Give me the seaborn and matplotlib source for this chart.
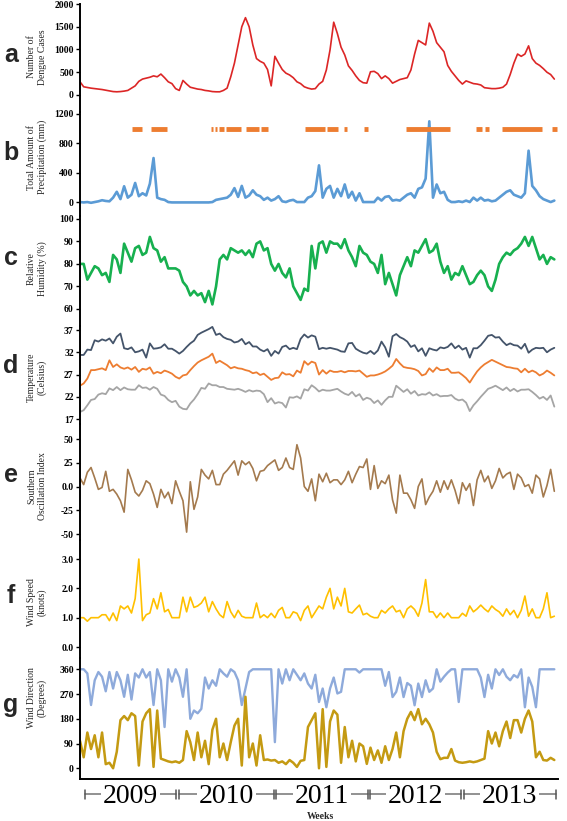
import numpy as np
import pandas as pd
import matplotlib
matplotlib.use("Agg")
import matplotlib.pyplot as plt
import seaborn as sns
from matplotlib.transforms import blended_transform_factory

# ---------------- data (biweekly readings, 2009-2013) ----------------
dengue = [290, 180, 165, 150, 140, 130, 120, 105, 90, 75,
          70, 75, 85, 100, 150, 200, 300, 350, 370, 390,
          420, 400, 460, 380, 290, 250, 140, 100, 320, 240,
          170, 150, 130, 120, 100, 90, 75, 70, 70, 100,
          150, 400, 700, 1100, 1500, 1700, 1500, 1100, 800, 740,
          700, 560, 200, 850, 700, 560, 480, 440, 380, 290,
          250, 180, 150, 130, 140, 240, 300, 550, 990, 1600,
          1350, 1050, 880, 640, 540, 420, 320, 270, 260, 510,
          520, 470, 360, 420, 360, 260, 300, 340, 360, 380,
          550, 900, 1200, 1150, 1100, 1580, 1400, 1150, 1050, 950,
          650, 520, 420, 320, 240, 310, 280, 250, 240, 220,
          160, 150, 140, 140, 150, 170, 240, 450, 700, 900,
          850, 900, 1080, 800, 700, 650, 580, 500, 450, 350]

precip = [0, -5, 0, -10, 0, 10, 25, 15, 10, 60,
          140, 40, 215, 60, 100, 260, 80, 120, 90, 250,
          600, 60, 40, 30, 0, -5, -5, -5, -5, -5,
          -5, -5, -5, -5, -5, -5, 0, 30, 40, 50,
          60, 100, 190, 70, 220, 60, 90, 160, 100, 80,
          30, 60, 20, 40, 80, 10, 0, 20, 30, 0,
          0, 0, 60, 80, 150, 500, 60, 180, 220, 60,
          180, 80, 240, 60, 140, 20, 120, 0, 0, 0,
          0, 60, 20, 70, 80, 20, 30, 20, 60, 100,
          120, 60, 180, 200, 320, 1100, 60, 240, 120, 140,
          30, 0, 0, 10, 0, 20, 0, 60, 20, 60,
          20, 30, 10, 20, 60, 100, 140, 160, 100, 80,
          60, 120, 700, 220, 160, 80, 40, 20, 0, 20]

# weeks flagged at the 1000 mm level (start week, end week)
flag_start = [29, 39, 72, 74, 76, 80, 91, 99, 123, 135, 144, 155, 178, 216, 221, 230, 257]
flag_end = [33, 47, 72, 74, 78, 87, 97, 102, 133, 140, 145, 156, 201, 218, 222, 251, 259]

humidity = [80, 80, 73, 76, 79, 78, 75, 76, 72, 84,
            82, 76, 89, 85, 81, 87, 88, 84, 85, 92,
            87, 86, 81, 83, 78, 78, 78, 77, 72, 70,
            66, 68, 66, 67, 63, 68, 62, 70, 82, 84,
            82, 87, 86, 85, 86, 84, 86, 83, 89, 90,
            86, 87, 80, 77, 80, 76, 74, 78, 70, 67,
            64, 69, 68, 88, 78, 89, 90, 85, 90, 89,
            89, 87, 91, 86, 83, 79, 88, 85, 84, 81,
            80, 76, 84, 71, 76, 71, 66, 75, 79, 83,
            79, 86, 85, 88, 91, 85, 86, 89, 81, 76,
            79, 73, 76, 75, 79, 75, 71, 72, 75, 77,
            75, 70, 68, 73, 80, 83, 85, 84, 86, 87,
            89, 92, 88, 92, 87, 82, 84, 80, 83, 82]

temp_max = [31.4, 31.4, 32.6, 32.5, 34.7, 34.4, 34.9, 34.6, 35.1, 34.0,
            35.5, 36.2, 32.9, 32.7, 33.1, 32.0, 32.2, 32.6, 30.8, 34.0,
            32.8, 32.9, 33.1, 33.8, 32.8, 32.8, 32.3, 31.7, 32.3, 33.2,
            34.0, 34.6, 35.9, 36.4, 36.8, 37.2, 37.7, 35.9, 36.2, 35.4,
            35.0, 34.8, 34.2, 34.4, 35.0, 33.8, 34.3, 33.3, 33.3, 32.6,
            32.2, 32.7, 31.2, 32.3, 31.7, 33.2, 33.5, 32.7, 33.0, 32.7,
            35.0, 36.0, 35.3, 35.8, 35.5, 32.7, 33.0, 32.8, 33.0, 32.8,
            32.6, 32.2, 32.1, 34.0, 34.1, 32.8, 32.3, 31.9, 31.7, 32.3,
            31.6, 32.4, 34.4, 33.1, 31.0, 35.6, 36.1, 35.4, 35.0, 34.4,
            33.2, 33.6, 32.2, 32.9, 31.2, 32.9, 32.6, 32.4, 33.1, 32.9,
            33.2, 34.0, 32.9, 33.5, 32.6, 33.0, 30.8, 32.9, 32.9, 33.6,
            34.6, 35.7, 35.9, 35.3, 35.4, 34.4, 33.6, 34.0, 33.6, 33.5,
            32.8, 33.9, 31.9, 32.6, 33.0, 32.9, 33.0, 32.0, 32.6, 33.0]

temp_mean = [24.5, 25.0, 26.1, 28.0, 28.0, 28.2, 28.4, 28.0, 30.2, 28.7,
             29.3, 28.6, 28.3, 28.6, 28.1, 28.7, 27.6, 28.3, 28.1, 28.6,
             27.2, 27.6, 27.3, 27.9, 27.6, 27.2, 26.5, 26.1, 26.8, 27.0,
             28.0, 28.9, 29.7, 30.2, 30.6, 31.0, 31.7, 29.6, 30.1, 29.6,
             29.1, 28.4, 28.7, 28.4, 28.3, 28.0, 27.8, 27.3, 27.5, 26.9,
             27.2, 26.5, 25.8, 26.2, 26.3, 27.5, 27.0, 27.1, 26.6, 27.9,
             27.4, 30.0, 29.2, 29.9, 29.6, 27.0, 28.0, 27.2, 27.9, 27.6,
             27.6, 27.8, 27.5, 27.8, 27.8, 27.7, 27.9, 27.2, 26.5, 26.8,
             26.8, 27.0, 27.3, 27.7, 28.3, 29.0, 30.5, 29.5, 28.7, 28.5,
             28.4, 28.2, 27.8, 26.8, 27.1, 28.4, 27.6, 28.6, 28.0, 28.0,
             28.3, 27.4, 27.4, 27.5, 26.9, 26.2, 25.2, 26.5, 27.7, 28.6,
             29.3, 29.8, 30.3, 29.9, 29.5, 29.1, 28.7, 28.6, 28.4, 28.3,
             27.5, 28.3, 27.5, 27.9, 27.5, 26.8, 27.2, 27.9, 27.4, 26.8]

temp_min = [18.6, 19.0, 20.1, 21.3, 21.5, 22.5, 22.8, 22.6, 23.9, 23.5,
            24.2, 23.5, 24.1, 23.7, 23.6, 23.6, 24.6, 24.0, 24.1, 23.6,
            24.2, 23.8, 22.5, 22.2, 21.3, 20.8, 21.1, 19.8, 19.3, 19.2,
            20.5, 21.4, 22.6, 24.0, 23.8, 25.0, 24.6, 24.6, 24.2, 24.2,
            23.8, 23.7, 23.6, 23.8, 23.5, 23.1, 23.5, 23.2, 23.4, 23.3,
            22.6, 20.8, 21.7, 20.5, 20.8, 20.6, 19.6, 21.9, 21.8, 22.1,
            21.6, 23.7, 23.4, 24.6, 24.0, 23.2, 23.6, 23.4, 23.4, 23.6,
            23.8, 23.2, 22.7, 22.4, 23.1, 22.1, 22.6, 21.3, 21.8, 21.5,
            20.6, 21.2, 20.2, 21.2, 22.0, 22.0, 24.5, 23.8, 23.1, 23.7,
            22.7, 23.3, 22.3, 22.6, 22.5, 23.0, 22.3, 22.6, 22.1, 22.2,
            22.2, 22.4, 21.6, 21.2, 21.4, 20.7, 18.8, 20.1, 21.0, 22.0,
            22.9, 23.8, 24.1, 24.5, 24.0, 23.5, 24.1, 23.3, 23.8, 23.2,
            23.6, 23.6, 23.7, 23.1, 22.4, 21.6, 22.0, 21.3, 22.3, 19.8]

soi = [9, 2, 15, 20, 9, -3, -1, 16, -5, -3,
       -8, -15, -27, 18, 7, -6, -10, -4, 6, 3,
       -8, -22, -3, -12, -6, -18, 6, -5, -15, -48,
       5, -24, -11, 18, 12, 8, 17, 2, 2, 13,
       17, 22, 27, 12, 27, 23, 26, 19, 6, 16,
       17, 22, 25, 28, 17, 20, 30, 20, 18, 44,
       30, 0, -5, 8, -15, 13, 5, 14, 4, 7,
       7, 2, 7, 16, 4, 13, 21, 20, 29, -3,
       22, -2, 6, 3, 12, -14, -28, 12, -7, -7,
       -14, -23, 0, 8, -19, -11, -5, 6, -6, 6,
       -3, 7, -4, -18, 4, -4, 3, -20, 7, 17,
       5, 11, -2, 6, 19, 9, 13, 15, -3, 13,
       9, 0, 2, -7, 12, 8, -11, 1, 18, -5]

wind_speed = [1.0, 1.0, 0.88, 1.0, 1.0, 1.0, 1.1, 1.1, 0.9, 1.16,
              0.9, 1.4, 1.3, 1.4, 1.16, 1.65, 3.0, 0.9, 1.1, 1.16,
              1.65, 1.3, 1.85, 1.2, 1.28, 1.0, 1.0, 1.0, 1.7, 1.2,
              1.7, 1.35, 1.4, 1.5, 1.7, 1.2, 1.55, 1.3, 1.1, 1.0,
              1.55, 1.2, 1.0, 1.25, 1.05, 1.0, 1.0, 1.0, 1.5, 1.0,
              1.1, 1.0, 1.15, 1.0, 1.25, 1.35, 1.0, 1.0, 1.2, 1.15,
              0.9, 1.25, 1.4, 1.0, 1.2, 1.4, 1.3, 1.7, 2.0, 1.3,
              1.7, 1.4, 2.0, 1.2, 1.16, 1.3, 1.43, 1.1, 1.15, 1.05,
              1.0, 1.0, 1.25, 1.16, 1.3, 1.4, 1.2, 1.25, 1.0, 1.3,
              1.4, 1.28, 1.05, 1.5, 2.3, 1.2, 1.2, 1.0, 1.16, 1.0,
              1.16, 1.0, 1.0, 1.0, 1.15, 1.05, 1.4, 1.2, 1.3, 1.43,
              1.3, 1.2, 1.4, 1.28, 1.2, 1.05, 1.3, 1.1, 1.25, 1.0,
              1.25, 1.74, 1.05, 1.3, 1.0, 1.0, 1.3, 1.85, 1.0, 1.05]

wind_dir_max = [360, 360, 345, 230, 320, 350, 333, 280, 350, 290,
                350, 320, 260, 340, 250, 345, 330, 360, 330, 350,
                230, 360, 320, 150, 360, 315, 360, 330, 260, 360,
                180, 210, 200, 216, 330, 290, 320, 300, 360, 345,
                333, 360, 350, 320, 230, 290, 350, 360, 360, 360,
                360, 360, 360, 95, 360, 308, 360, 320, 360, 340,
                320, 345, 308, 290, 340, 241, 290, 222, 290, 330,
                272, 278, 360, 360, 360, 360, 348, 360, 360, 360,
                360, 360, 360, 300, 350, 259, 278, 330, 259, 310,
                300, 229, 308, 259, 320, 278, 290, 360, 315, 333,
                348, 360, 360, 241, 360, 360, 360, 360, 360, 330,
                259, 340, 290, 360, 339, 360, 333, 320, 339, 330,
                360, 222, 330, 296, 222, 360, 360, 360, 360, 360]

wind_dir_min = [100, 40, 130, 70, 120, 40, 130, 15, 20, 0,
                60, 175, 190, 175, 200, 190, 10, 170, 200, 215,
                5, 210, 35, 30, 25, 22, 25, 20, 30, 135,
                95, 30, 130, 40, 100, 15, 140, 180, 40, 90,
                30, 95, 155, 180, 10, 260, 40, 90, 10, 120,
                30, 32, 28, 30, 20, 25, 15, 30, 20, 5,
                27, 30, 150, 175, 200, 0, 215, 5, 170, 210,
                195, 20, 150, 40, 100, 25, 90, 80, 16, 75,
                30, 65, 20, 80, 30, 70, 130, 40, 135, 180,
                205, 175, 215, 160, 180, 160, 130, 60, 33, 38,
                38, 70, 28, 22, 20, 22, 25, 22, 25, 30,
                35, 135, 90, 130, 80, 135, 170, 110, 175, 175,
                130, 180, 210, 170, 40, 60, 30, 28, 38, 30]

years = ["2009", "2010", "2011", "2012", "2013"]
year_edges = [2, 53, 106, 157, 208, 259.5]   # week numbers bounding each year

weeks = 2 * np.arange(len(dengue))

# ---------------- styling ----------------
sns.set_style("white")
plt.rcParams['font.family'] = ['Liberation Serif', 'DejaVu Serif']

W, H = 567, 821
fig = plt.figure(figsize=(W / 100, H / 100), dpi=100)
LEFT, RIGHT = 80, 558


def add_ax(top, bottom):
    return fig.add_axes([LEFT / W, 1 - bottom / H, (RIGHT - LEFT) / W, (bottom - top) / H])


panels = [
    dict(top=4, bottom=112, ylim=(-374, 2000), ticks=[0, 500, 1000, 1500, 2000],
         labels=["0", "500", "1000", "1500", "2000"], ylabel="Number of\nDengue Cases",
         lab_y=57, letter="a", let_y=62),
    dict(top=112, bottom=216, ylim=(-190, 1227), ticks=[0, 400, 800, 1200],
         labels=["0", "400", "800", "1200"], ylabel="Total Amount of\nPrecipitation (mm)",
         lab_y=157, letter="b", let_y=160),
    dict(top=216, bottom=326, ylim=(52.4, 101.3), ticks=[60, 70, 80, 90, 100],
         labels=["60", "70", "80", "90", "100"], ylabel="Relative\nHumidity (%)",
         lab_y=269, letter="c", let_y=265),
    dict(top=326, bottom=424, ylim=(15.9, 37.9), ticks=[17, 22, 27, 32, 37],
         labels=["17", "22", "27", "32", "37"], ylabel="Temperature\n(Celsius)",
         lab_y=377, letter="d", let_y=373),
    dict(top=424, bottom=540, ylim=(-56.3, 65.8), ticks=[-50, -25, 0, 25, 50],
         labels=["-50", "-25", "0.0", "25", "50"], ylabel="Southern\nOscillation Index",
         lab_y=486, letter="e", let_y=482),
    dict(top=540, bottom=658, ylim=(-0.375, 3.65), ticks=[0, 1, 2, 3],
         labels=["0.0", "1.0", "2.0", "3.0"], ylabel="Wind Speed\n(knots)",
         lab_y=602, letter="f", let_y=603),
    dict(top=658, bottom=779, ylim=(-39, 401), ticks=[0, 90, 180, 270, 360],
         labels=["0", "90", "180", "270", "360"], ylabel="Wind Direction\n(Degrees)",
         lab_y=698, letter="g", let_y=712),
]

axes = []
for p in panels:
    ax = add_ax(p["top"], p["bottom"])
    ax.set_xlim(0, 260)
    ax.set_ylim(*p["ylim"])
    ax.set_yticks(p["ticks"])
    ax.set_yticklabels(p["labels"], fontsize=7, fontweight="bold")
    ax.set_xticks([])
    ax.patch.set_alpha(0)
    for s in ["top", "right", "bottom"]:
        ax.spines[s].set_visible(False)
    ax.spines["left"].set_linewidth(1.4)
    ax.spines["left"].set_color("black")
    ax.tick_params(axis="y", direction="out", length=3, width=1, pad=1.5, colors="black", left=True)
    fig.text(37 / W, 1 - p["lab_y"] / H, p["ylabel"], rotation=90, ha="center", va="center",
             multialignment="center", fontsize=7, linespacing=1.15)
    fig.text(11 / W, 1 - p["let_y"] / H, p["letter"], ha="center", va="baseline",
             fontsize=18, fontweight="bold", family=["Liberation Sans", "DejaVu Sans"])
    axes.append(ax)

ax_a, ax_b, ax_c, ax_d, ax_e, ax_f, ax_g = axes


def line(ax, vals, color, lw):
    df = pd.DataFrame({"week": weeks, "value": vals})
    sns.lineplot(data=df, x="week", y="value", ax=ax, color=color, linewidth=lw)
    ax.set_xlabel("")
    ax.set_ylabel("")


line(ax_a, dengue, "#dc2626", 1.2)
line(ax_b, precip, "#5b9bd5", 1.9)
for s, e in zip(flag_start, flag_end):
    ax_b.hlines(1000, s - 0.5, e + 0.5, colors="#ed7d31", linewidth=3.5)
line(ax_c, humidity, "#17b04f", 1.9)
line(ax_d, temp_max, "#44546a", 1.3)
line(ax_d, temp_mean, "#ed7d31", 1.3)
line(ax_d, temp_min, "#a5a5a5", 1.3)
line(ax_e, soi, "#a47a4e", 1.2)
line(ax_f, wind_speed, "#ffc000", 1.2)
line(ax_g, wind_dir_max, "#8eaadb", 1.7)
line(ax_g, wind_dir_min, "#c49a12", 1.8)

for ax in axes:
    ax.set_xlim(0, 260)
    ax.set_xticks([])

ax_g.spines["bottom"].set_visible(True)
ax_g.spines["bottom"].set_linewidth(1.4)
ax_g.spines["bottom"].set_color("black")

# ---------------- year brackets ----------------
trans = blended_transform_factory(ax_g.transData, fig.transFigure)
y_line = 1 - 794 / H
tick_h = 4.5 / H
for k, yr in enumerate(years):
    x0, x1 = year_edges[k] + 0.6, year_edges[k + 1] - 0.6
    ax_g.plot([x0, x1], [y_line, y_line], transform=trans, color="#7f7f7f", lw=1.2, clip_on=False)
    for xv in (x0, x1):
        ax_g.plot([xv, xv], [y_line - tick_h, y_line + tick_h], transform=trans,
                  color="#555555", lw=1.1, clip_on=False)
    ax_g.text((x0 + x1) / 2, 1 - 803 / H, yr, transform=trans, ha="center", va="baseline",
              fontsize=20, color="black",
              bbox=dict(facecolor="white", edgecolor="none", pad=1.5))

fig.text(320 / W, 1 - 819 / H, "Weeks", ha="center", va="baseline", fontsize=7, fontweight="bold")

fig.savefig("out.png", dpi=100)
